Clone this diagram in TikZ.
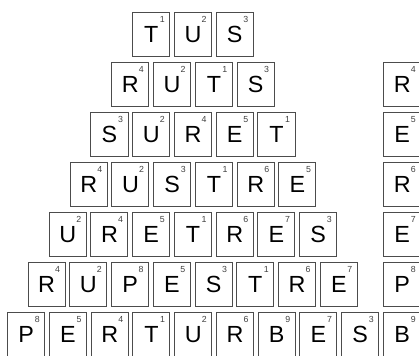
\documentclass[tikz,border=0pt]{standalone}
\usepackage{fontspec}
\setmainfont{Liberation Sans}

\begin{document}
\begin{tikzpicture}[
  x=0.75pt, y=-0.75pt,
  every node/.style={inner sep=0pt},
  num/.style={anchor=center, xshift=-6pt, yshift=-5.8pt,
              font=\fontsize{6.6}{7}\selectfont, text=black!75},
  tile/.style={rectangle, draw=black!70, line width=0.75pt,
               minimum width=27.8pt, minimum height=33.3pt,
               font=\fontsize{17.5}{18}\selectfont,
               label={[num]north east:#1}},
]
  \clip (0,0) rectangle (419,356);
  % row 1
  \node[tile=1] (t11) at (151.200,34.800) {T};
  \node[tile=2] (t12) at (192.950,34.800) {U};
  \node[tile=3] (t13) at (234.700,34.800) {S};
  % row 2
  \node[tile=4] (t21) at (130.400,84.800) {R};
  \node[tile=2] (t22) at (172.150,84.800) {U};
  \node[tile=1] (t23) at (213.900,84.800) {T};
  \node[tile=3] (t24) at (255.650,84.800) {S};
  % row 3
  \node[tile=3] (t31) at (109.500,134.800) {S};
  \node[tile=2] (t32) at (151.250,134.800) {U};
  \node[tile=4] (t33) at (193.000,134.800) {R};
  \node[tile=5] (t34) at (234.750,134.800) {E};
  \node[tile=1] (t35) at (276.500,134.800) {T};
  % row 4
  \node[tile=4] (t41) at (88.700,184.800) {R};
  \node[tile=2] (t42) at (130.450,184.800) {U};
  \node[tile=3] (t43) at (172.200,184.800) {S};
  \node[tile=1] (t44) at (213.950,184.800) {T};
  \node[tile=6] (t45) at (255.700,184.800) {R};
  \node[tile=5] (t46) at (297.450,184.800) {E};
  % row 5
  \node[tile=2] (t51) at (67.700,234.800) {U};
  \node[tile=4] (t52) at (109.450,234.800) {R};
  \node[tile=5] (t53) at (151.200,234.800) {E};
  \node[tile=1] (t54) at (192.950,234.800) {T};
  \node[tile=6] (t55) at (234.700,234.800) {R};
  \node[tile=7] (t56) at (276.450,234.800) {E};
  \node[tile=3] (t57) at (318.200,234.800) {S};
  % row 6
  \node[tile=4] (t61) at (46.600,284.800) {R};
  \node[tile=2] (t62) at (88.350,284.800) {U};
  \node[tile=8] (t63) at (130.100,284.800) {P};
  \node[tile=5] (t64) at (171.850,284.800) {E};
  \node[tile=3] (t65) at (213.600,284.800) {S};
  \node[tile=1] (t66) at (255.350,284.800) {T};
  \node[tile=6] (t67) at (297.100,284.800) {R};
  \node[tile=7] (t68) at (338.850,284.800) {E};
  % row 7
  \node[tile=8] (t71) at (26.200,334.800) {P};
  \node[tile=5] (t72) at (67.950,334.800) {E};
  \node[tile=4] (t73) at (109.700,334.800) {R};
  \node[tile=1] (t74) at (151.450,334.800) {T};
  \node[tile=2] (t75) at (193.200,334.800) {U};
  \node[tile=6] (t76) at (234.950,334.800) {R};
  \node[tile=9] (t77) at (276.700,334.800) {B};
  \node[tile=7] (t78) at (318.450,334.800) {E};
  \node[tile=3] (t79) at (360.200,334.800) {S};
  % right column
  \node[tile=4] (s2) at (402.200,84.800) {R};
  \node[tile=5] (s3) at (402.200,134.800) {E};
  \node[tile=6] (s4) at (402.200,184.800) {R};
  \node[tile=7] (s5) at (402.200,234.800) {E};
  \node[tile=8] (s6) at (402.200,284.800) {P};
  \node[tile=9] (s7) at (402.200,334.800) {B};
\end{tikzpicture}
\end{document}
